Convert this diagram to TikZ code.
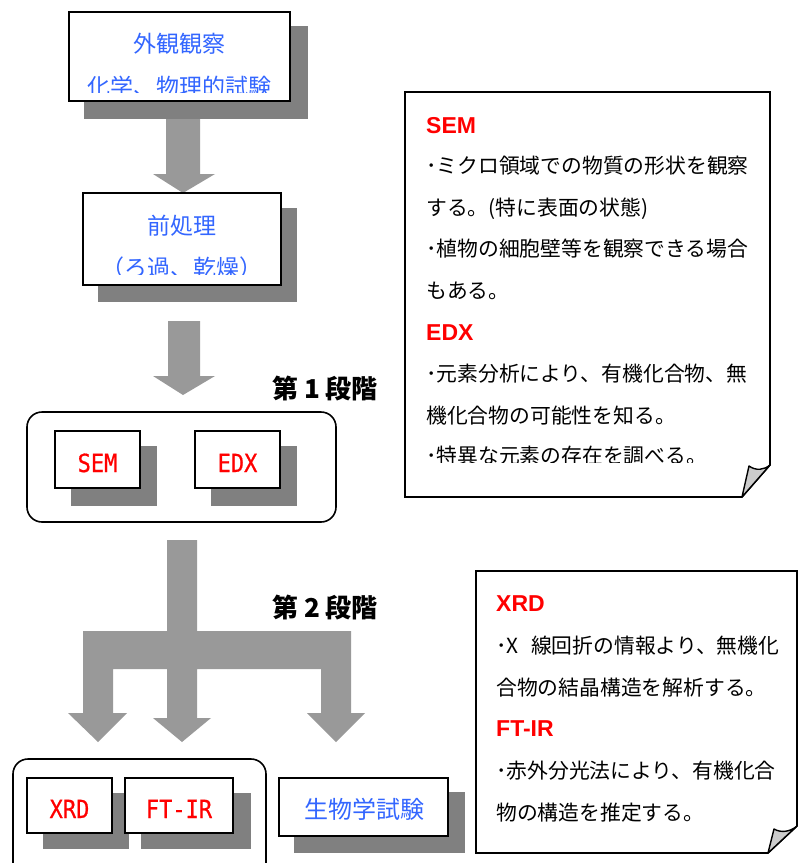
\documentclass[tikz,border=0pt]{standalone}
\usepackage{fontspec}
\setmainfont{Noto Sans CJK JP}
\newfontfamily\titlefont{Liberation Sans}
\newfontfamily\labfont[FakeStretch=0.88,FakeBold=0.6]{DejaVu Sans Mono}
\definecolor{jblue}{RGB}{51,102,255}
\definecolor{jred}{RGB}{255,0,0}
\definecolor{arrowgray}{RGB}{153,153,153}
\definecolor{shadowgray}{RGB}{128,128,128}
\definecolor{foldgray}{RGB}{204,204,204}
\tikzset{
  box/.style={draw=black, line width=1.6pt, fill=white, rectangle, inner sep=0pt},
  shadowfill/.style={fill=shadowgray, draw=none},
  blockarrow/.style={fill=arrowgray, draw=none},
  grp/.style={draw=black, line width=1.6pt, rectangle, rounded corners=15pt, inner sep=0pt},
  jtxt/.style={font=\fontsize{23}{23}\selectfont, text=jblue, anchor=base, inner sep=0pt},
  labtxt/.style={font=\labfont\fontsize{25}{25}\selectfont, text=jred, anchor=base, inner sep=0pt},
  stagetxt/.style={font=\bfseries\fontsize{26}{26}\selectfont, text=black, anchor=base west, inner sep=0pt},
  notetxt/.style={font=\fontsize{20.8}{20.8}\selectfont, text=black, anchor=base west, inner sep=0pt},
  notetitle/.style={font=\titlefont\bfseries\fontsize{23}{23}\selectfont, text=jred, anchor=base west, inner sep=0pt},
  notebox/.style={draw=black, line width=1.6pt, fill=white, line join=miter},
  foldstyle/.style={draw=black, line width=1.4pt, fill=foldgray, line join=round}
}
\begin{document}
\begin{tikzpicture}[x=1pt,y=-1pt]
\useasboundingbox (0,0) rectangle (803,863);
\clip (0,0) rectangle (803,863);
\fill[white] (0,0) rectangle (803,863);

% ---- block arrows ----
\fill[blockarrow] (166,101) -- (200,101) -- (200,174) -- (215,174) -- (183,193)
  -- (153,174) -- (166,174) -- cycle;
\fill[blockarrow] (168,321) -- (200,321) -- (200,376) -- (215,376) -- (183,395)
  -- (153,376) -- (168,376) -- cycle;
\fill[blockarrow] (167,540) -- (197,540) -- (197,631) -- (351,631) -- (351,713)
  -- (365,713) -- (336,742) -- (307,713) -- (321,713) -- (321,669) -- (197,669)
  -- (197,718) -- (211,718) -- (182,742) -- (153,718) -- (167,718) -- (167,669)
  -- (113,669) -- (113,713) -- (127,713) -- (98,742) -- (68,713) -- (83,713)
  -- (83,631) -- (167,631) -- cycle;

% ---- box 1 ----
\fill[shadowfill] (84,26) rectangle (308,119);
\node[box, minimum width=221pt, minimum height=89pt] (b1) at (179.5,56.5) {};
\node[jtxt] (b1a) at (179.5,52) {外観観察};
\begin{scope}
  \clip (70,60) rectangle (289,92);
  \node[jtxt] (b1b) at (179.5,95) {化学、物理的試験};
\end{scope}

% ---- box 2 ----
\fill[shadowfill] (98,208) rectangle (297,302);
\node[box, minimum width=198pt, minimum height=92pt] (b2) at (182,239) {};
\node[jtxt] (b2a) at (182,234) {前処理};
\begin{scope}
  \clip (84,245) rectangle (280,274.5);
  \node[jtxt] (b2b) at (182,276) {（ろ過、乾燥）};
\end{scope}

% ---- stage 1 ----
\node[stagetxt] (st1) at (272,398) {第 1 段階};
\node[grp, minimum width=309pt, minimum height=110pt] (g1) at (181.5,467) {};
\fill[shadowfill] (71,446) rectangle (157,506);
\node[box, minimum width=85pt, minimum height=57pt] (sem) at (97.5,459.5) {};
\node[labtxt] (semt) at (97.5,472) {SEM};
\fill[shadowfill] (211,446) rectangle (297,506);
\node[box, minimum width=85pt, minimum height=57pt] (edx) at (237.5,459.5) {};
\node[labtxt] (edxt) at (237.5,472) {EDX};

% ---- stage 2 ----
\node[stagetxt] (st2) at (272,617.5) {第 2 段階};
\node[grp, minimum width=253pt, minimum height=120pt] (g2) at (139.5,819) {};
\fill[shadowfill] (43,793) rectangle (129,849);
\node[box, minimum width=85pt, minimum height=55pt] (xrd) at (69.5,805.5) {};
\node[labtxt] (xrdt) at (69.5,818) {XRD};
\fill[shadowfill] (141,793) rectangle (251,849);
\node[box, minimum width=108pt, minimum height=55pt] (ftir) at (179,805.5) {};
\node[labtxt] (ftirt) at (179,818) {FT-IR};
\fill[shadowfill] (294,792) rectangle (465,853);
\node[box, minimum width=169pt, minimum height=58pt] (bio) at (363.5,807) {};
\node[jtxt, font=\fontsize{24}{24}\selectfont] (biot) at (364,818.5) {生物学試験};

% ---- note 1 ----
\draw[notebox] (405,92) -- (770,92) -- (770,465) -- (742,497) -- (405,497) -- cycle;
\draw[foldstyle] (742,497) -- (749,466) .. controls (756,471) and (764,470) .. (770,465) -- cycle;
\node[notetitle] (n1t1) at (426,133) {SEM};
\node[notetxt] (n1l1) at (426,173) {･ミクロ領域での物質の形状を観察};
\node[notetxt] (n1l2) at (426,215) {する。(特に表面の状態)};
\node[notetxt] (n1l3) at (426,256) {･植物の細胞壁等を観察できる場合};
\node[notetxt] (n1l4) at (426,298) {もある。};
\node[notetitle] (n1t2) at (426,340) {EDX};
\node[notetxt] (n1l5) at (426,381) {･元素分析により、有機化合物、無};
\node[notetxt] (n1l6) at (426,423) {機化合物の可能性を知る。};
\begin{scope}
  \clip (410,430) rectangle (740,462);
  \node[notetxt] (n1l7) at (426,463) {･特異な元素の存在を調べる。};
\end{scope}

% ---- note 2 ----
\draw[notebox] (476,571) -- (797,571) -- (797,826) -- (768,853) -- (476,853) -- cycle;
\draw[foldstyle] (768,853) -- (774,829) .. controls (781,833) and (790,832) .. (797,826) -- cycle;
\node[notetitle] (n2t1) at (496,611) {XRD};
\node[notetxt] (n2l1) at (496,653) {･X\hspace{0.6em}線回折の情報より、無機化};
\node[notetxt] (n2l2) at (496,695) {合物の結晶構造を解析する。};
\node[notetitle] (n2t2) at (496,736) {FT-IR};
\node[notetxt] (n2l3) at (496,778) {･赤外分光法により、有機化合};
\node[notetxt] (n2l4) at (496,820) {物の構造を推定する。};
\end{tikzpicture}
\end{document}
